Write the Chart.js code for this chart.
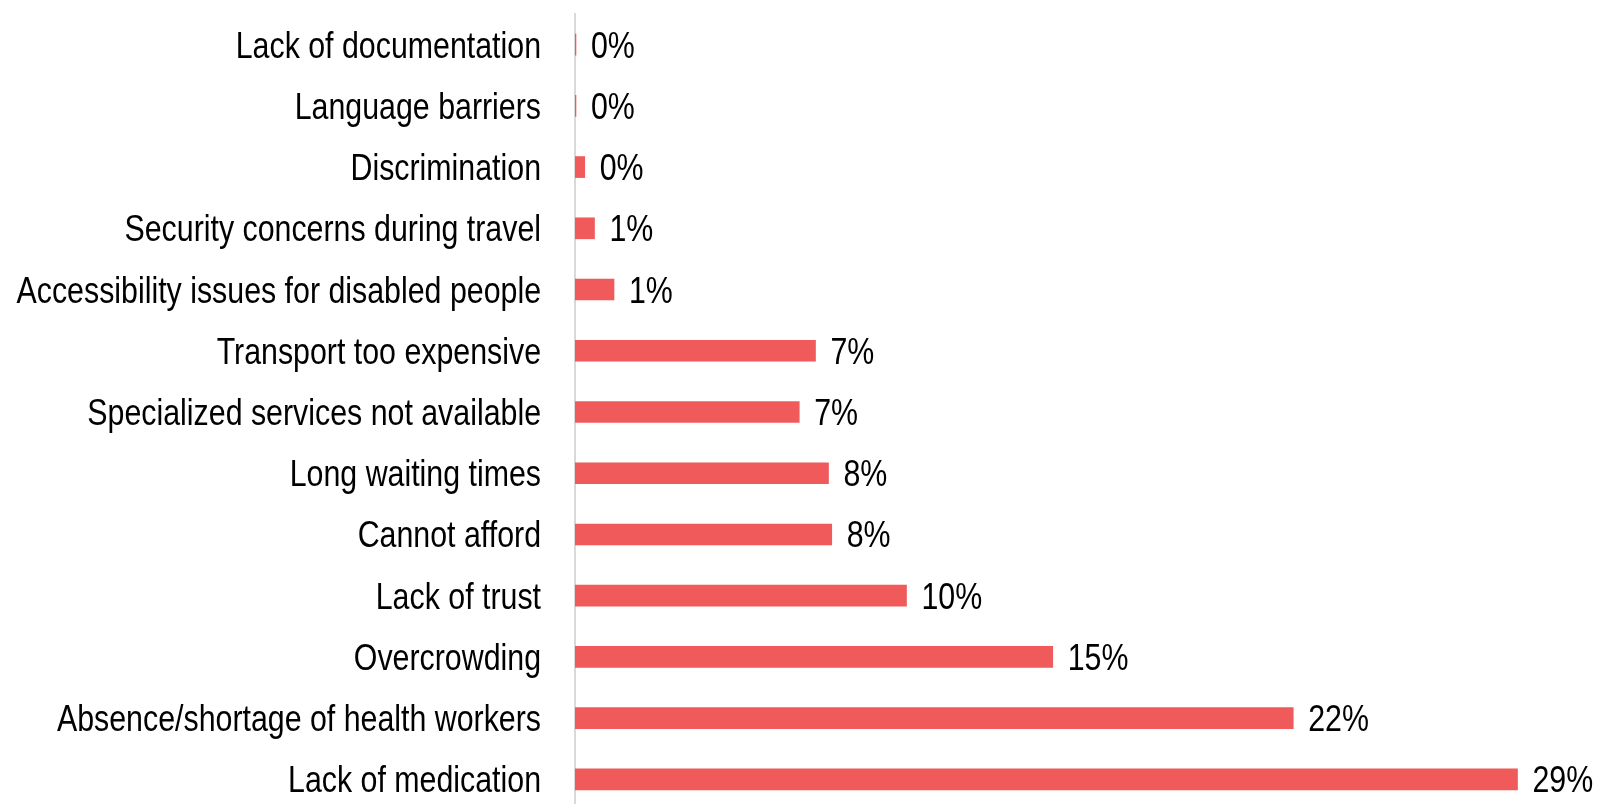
<!DOCTYPE html>
<html lang="en">
<head>
    <meta charset="UTF-8">
    <title>Barriers to accessing health care</title>
    <script src="https://cdn.jsdelivr.net/npm/chart.js"></script>
    <style>
        html, body {
            margin: 0;
            padding: 0;
            background: #ffffff;
            overflow: hidden;
        }

        #wrap {
            position: relative;
            width: 1597px;
            height: 812px;
        }
    </style>
</head>
<body>
    <div id="wrap"><canvas id="chart"></canvas></div>

    <script>
        const barriers = [
            'Lack of documentation',
            'Language barriers',
            'Discrimination',
            'Security concerns during travel',
            'Accessibility issues for disabled people',
            'Transport too expensive',
            'Specialized services not available',
            'Long waiting times',
            'Cannot afford',
            'Lack of trust',
            'Overcrowding',
            'Absence/shortage of health workers',
            'Lack of medication'
        ];

        // share of respondents, %
        const shares = [0.03, 0.03, 0.3, 0.6, 1.2, 7.4, 6.9, 7.8, 7.9, 10.2, 14.7, 22.1, 29.0];

        // no narrow face installed, so regular Liberation Sans is squeezed horizontally
        const FONT = '37px "Liberation Sans", Arial, sans-serif';
        const SQUEEZE = 0.82;

        function narrowText(ctx, text, x, y, align) {
            ctx.save();
            ctx.translate(x, y);
            ctx.scale(SQUEEZE, 1);
            ctx.textAlign = align;
            ctx.fillText(text, 0, 0);
            ctx.restore();
        }

        // category names left of the axis, percentages after each bar
        const textLayer = {
            id: 'textLayer',
            afterDatasetsDraw(chart) {
                const ctx = chart.ctx;
                const yScale = chart.scales.y;
                const meta = chart.getDatasetMeta(0);
                ctx.save();
                ctx.font = FONT;
                ctx.fillStyle = '#000000';
                ctx.textBaseline = 'alphabetic';
                yScale.ticks.forEach((tick, i) => {
                    const y = yScale.getPixelForTick(i);
                    narrowText(ctx, yScale.getLabelForValue(tick.value), yScale.right - 34, y + 13, 'right');
                });
                meta.data.forEach((bar, i) => {
                    narrowText(ctx, Math.round(shares[i]) + '%', bar.x + 15, bar.y + 13, 'left');
                });
                ctx.restore();
            }
        };

        new Chart(document.getElementById('chart'), {
            type: 'bar',
            data: {
                labels: barriers,
                datasets: [{
                    data: shares,
                    backgroundColor: '#F05A5A',
                    borderWidth: 0,
                    barThickness: 21
                }]
            },
            options: {
                indexAxis: 'y',
                responsive: true,
                maintainAspectRatio: false,
                animation: false,
                layout: { padding: { top: 14, right: 47, bottom: 2, left: 0 } },
                plugins: {
                    legend: { display: false },
                    tooltip: { enabled: false }
                },
                scales: {
                    x: {
                        display: false,
                        min: 0,
                        max: 30
                    },
                    y: {
                        grid: { display: false, drawTicks: false },
                        border: { display: true, color: '#d9d9d9', width: 2 },
                        ticks: { display: false },
                        afterFit(scale) {
                            scale.width = 575;
                            scale.paddingTop = 0;
                            scale.paddingBottom = 0;
                        }
                    }
                }
            },
            plugins: [textLayer]
        });
    </script>
</body>
</html>
